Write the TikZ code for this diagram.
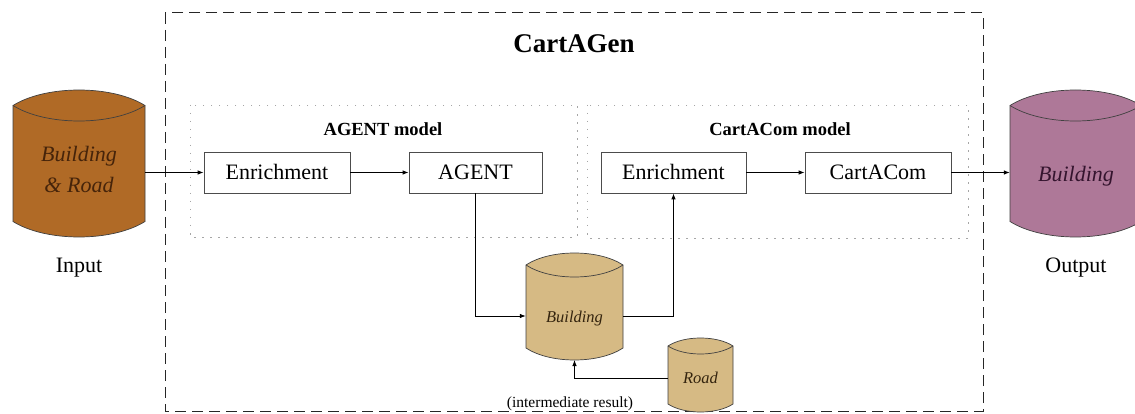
\documentclass[tikz,border=0pt]{standalone}
\usepackage{fontspec}
\setmainfont{Liberation Serif}
\usetikzlibrary{arrows.meta}
\definecolor{inputfill}{RGB}{176,106,38}
\definecolor{outputfill}{RGB}{174,120,152}
\definecolor{midfill}{RGB}{214,186,132}
\definecolor{intext}{RGB}{70,36,10}
\definecolor{outtext}{RGB}{52,20,46}
\definecolor{midtext}{RGB}{52,36,14}
\tikzset{
  cylline/.style={draw=black!75, line width=0.7pt},
  procbox/.style={draw=black!70, line width=0.8pt, rectangle, inner sep=0pt,
    minimum height=41pt, text height=14.5pt, text depth=0pt,
    font=\fontsize{22}{26}\selectfont},
  flow/.style={line width=0.8pt, -{Latex[length=6pt,width=4.5pt]}},
  modelframe/.style={draw=black!35, line width=0.9pt, dash pattern=on 1.5pt off 6.5pt},
  outerframe/.style={draw=black!85, line width=1pt, dash pattern=on 11pt off 6pt},
  label/.style={anchor=base, inner sep=0pt},
}
\newcommand\dbcyl[8]{%
  \filldraw[cylline, fill=#7] (#2,{#4+#5}) -- (#2,{#6-#5})
    .. controls ({#2+0.25*(#3-#2)},{#6+#5/3}) and ({#3-0.25*(#3-#2)},{#6+#5/3}) .. (#3,{#6-#5})
    -- (#3,{#4+#5})
    .. controls ({#3-0.25*(#3-#2)},{#4-#5/3}) and ({#2+0.25*(#3-#2)},{#4-#5/3}) .. cycle;
  \draw[cylline] (#2,{#4+#5})
    .. controls ({#2+0.25*(#3-#2)},{#4+#5+4*#5/3}) and ({#3-0.25*(#3-#2)},{#4+#5+4*#5/3}) .. (#3,{#4+#5});
  \node[inner sep=0pt, minimum width={#3-#2}, minimum height=0pt] (#1) at ({(#2+#3)/2},#8) {};
  \coordinate (#1-bot) at ({(#2+#3)/2},#6);
}
\begin{document}
\begin{tikzpicture}[x=1pt,y=-1pt]
\clip (0,0) rectangle (1135,414);
\fill[white] (0,0) rectangle (1135,414);

% outer frame
\draw[outerframe] (165,13) rectangle (983,411);
\node[label, font=\bfseries\fontsize{27}{30}\selectfont] (title) at (574,53) {CartAGen};

% model frames
\draw[modelframe] (190,105) rectangle (577,237);
\draw[modelframe] (587,105) rectangle (968,238);
\node[label, font=\bfseries\fontsize{18.5}{22}\selectfont] (agentlbl) at (383,136) {AGENT model};
\node[label, font=\bfseries\fontsize{18.5}{22}\selectfont] (comlbl) at (780,136) {CartACom model};

% process boxes
\node[procbox, minimum width=146pt] (enr1) at (277,172.5) {Enrichment};
\node[procbox, minimum width=133pt] (agent) at (475.5,172.5) {AGENT};
\node[procbox, minimum width=145pt] (enr2) at (673.5,172.5) {Enrichment};
\node[procbox, minimum width=146pt] (com) at (878,172.5) {CartACom};

% cylinders
\dbcyl{inp}{13}{145}{90}{15.5}{237}{inputfill}{172.5}
\dbcyl{outp}{1010}{1141}{90}{15.5}{237}{outputfill}{172.5}
\dbcyl{bld}{526}{623}{253}{12}{360}{midfill}{316}
\dbcyl{road}{668}{733}{338}{8}{412}{midfill}{378}

% cylinder texts
\node[label, font=\itshape\fontsize{22}{26}\selectfont, text=intext] (inptxt1) at (79,162) {Building};
\node[label, font=\itshape\fontsize{22}{26}\selectfont, text=intext] (inptxt2) at (79,193) {\& Road};
\node[label, font=\itshape\fontsize{22}{26}\selectfont, text=outtext] (outtxt) at (1076,182) {Building};
\node[label, font=\itshape\fontsize{16.5}{20}\selectfont, text=midtext] (bldtxt) at (574.5,322) {Building};
\node[label, font=\itshape\fontsize{16.5}{20}\selectfont, text=midtext] (roadtxt) at (700.5,383) {Road};

% captions
\node[label, font=\fontsize{22}{26}\selectfont] (inlbl) at (79,272) {Input};
\node[label, font=\fontsize{22}{26}\selectfont] (outlbl) at (1076,272) {Output};
\node[label, font=\fontsize{15.5}{18}\selectfont] (interlbl) at (570,407) {(intermediate result)};

% connectors
\draw[flow] (inp.east |- enr1.west) -- (enr1.west);
\draw[flow] (enr1.east) -- (agent.west);
\draw[flow] (agent.south) |- (bld.west);
\draw[flow] (bld.east) -| (enr2.south);
\draw[flow] (enr2.east) -- (com.west);
\draw[flow] (com.east) -- (com.east -| outp.west);
\draw[flow] (road.west) -| (bld-bot);
\end{tikzpicture}
\end{document}
